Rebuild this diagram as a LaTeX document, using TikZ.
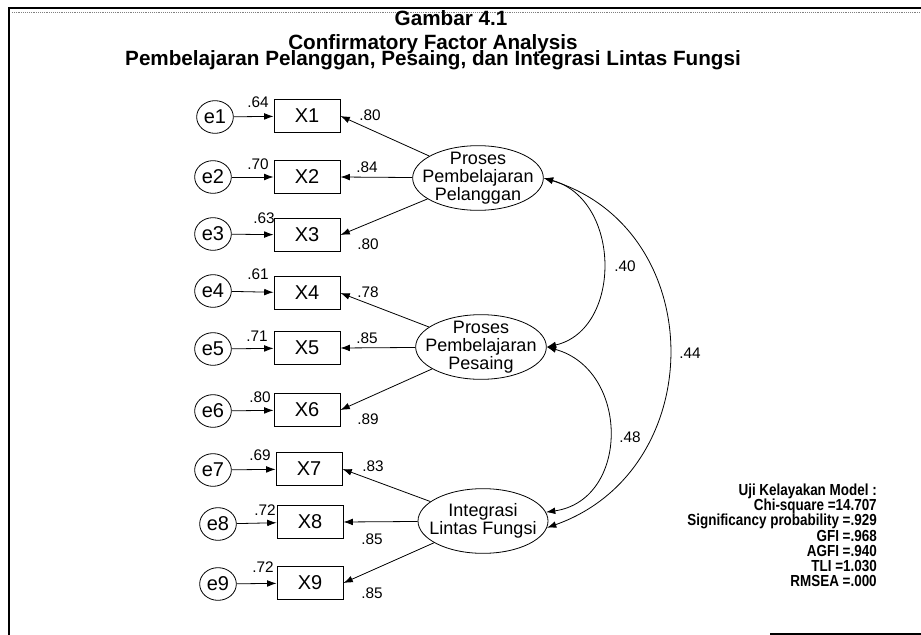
\documentclass[tikz,border=0pt]{standalone}
\usepackage{fontspec}
\setmainfont{Liberation Sans}
\newfontfamily\narrowbf[FakeStretch=0.84]{Liberation Sans Bold}
\usetikzlibrary{arrows.meta, shapes.geometric}

\begin{document}
\begin{tikzpicture}[
    x=0.75pt, y=-0.75pt,
    err/.style={ellipse, draw, line width=0.6pt, minimum width=27.5pt, minimum height=24.5pt, inner sep=0pt, font=\fontsize{15}{15}\selectfont},
    obs/.style={rectangle, draw, line width=0.7pt, minimum width=49.5pt, minimum height=24.5pt, inner sep=0pt, font=\fontsize{15}{15}\selectfont},
    fac/.style={ellipse, draw, line width=0.6pt, minimum width=97.5pt, minimum height=48.5pt, inner xsep=-7pt, inner ysep=-4pt, align=center, font=\fontsize{13.5}{13.5}\selectfont},
    num/.style={inner sep=0pt, font=\fontsize{11.5}{11.5}\selectfont},
    head/.style={inner sep=0pt, anchor=base, font=\fontsize{15.5}{15.5}\selectfont\bfseries},
    load/.style={-{Latex[length=7pt,width=5pt]}, line width=0.6pt},
    cov/.style={{Latex[length=7pt,width=5pt]}-{Latex[length=7pt,width=5pt]}, line width=0.6pt}
]
    \useasboundingbox (0,0) rectangle (921,635);

    % frame
    \draw[line width=1.2pt] (9,635) -- (9,8) -- (921,8);
    \draw[gray, densely dotted] (12,12) -- (921,12);
    \draw[line width=0.8pt] (770,634) -- (921,634);

    % titles
    \node[head] (title) at (451,26) {Gambar 4.1};
    \node[head] (sub1) at (433,49.5) {Confirmatory Factor Analysis};
    \node[head] (sub2) at (433,66) {Pembelajaran Pelanggan, Pesaing, dan Integrasi Lintas Fungsi};

    % indicators
    \node[obs] (X1) at (307,116) {X1};
    \node[obs] (X2) at (307,177) {X2};
    \node[obs] (X3) at (307,235) {X3};
    \node[obs] (X4) at (307,293) {X4};
    \node[obs] (X5) at (307,348) {X5};
    \node[obs] (X6) at (307,410) {X6};
    \node[obs] (X7) at (309,469) {X7};
    \node[obs] (X8) at (310,522) {X8};
    \node[obs] (X9) at (310,583) {X9};

    % errors
    \node[err] (e1) at (215,117) {e1};
    \node[err] (e2) at (213,177) {e2};
    \node[err] (e3) at (213,234) {e3};
    \node[err] (e4) at (213,291) {e4};
    \node[err] (e5) at (213,349) {e5};
    \node[err] (e6) at (213,411) {e6};
    \node[err] (e7) at (213,470) {e7};
    \node[err] (e8) at (218,524) {e8};
    \node[err] (e9) at (218,584) {e9};

    \draw[load] (e1) -- (X1);
    \draw[load] (e2) -- (X2);
    \draw[load] (e3) -- (X3);
    \draw[load] (e4) -- (X4);
    \draw[load] (e5) -- (X5);
    \draw[load] (e6) -- (X6);
    \draw[load] (e7) -- (X7);
    \draw[load] (e8) -- (X8);
    \draw[load] (e9) -- (X9);

    % squared multiple correlations
    \node[num] (r1) at (258,102) {.64};
    \node[num] (r2) at (258,164) {.70};
    \node[num] (r3) at (264,218) {.63};
    \node[num] (r4) at (258,274) {.61};
    \node[num] (r5) at (257,336) {.71};
    \node[num] (r6) at (260,397) {.80};
    \node[num] (r7) at (260,455) {.69};
    \node[num] (r8) at (265,510) {.72};
    \node[num] (r9) at (263,567) {.72};

    % latent variables
    \node[fac] (F1) at (478,178) {Proses\\Pembelajaran\\Pelanggan};
    \node[fac] (F2) at (481,347) {Proses\\Pembelajaran\\Pesaing};
    \node[fac] (F3) at (483,521) {Integrasi\\Lintas Fungsi};

    \draw[load] (F1) -- (X1.east);
    \draw[load] (F1) -- (X2.east);
    \draw[load] (F1) -- (X3.east);
    \draw[load] (F2) -- (X4.east);
    \draw[load] (F2) -- (X5.east);
    \draw[load] (F2) -- (X6.east);
    \draw[load] (F3) -- (X7.east);
    \draw[load] (F3) -- (X8.east);
    \draw[load] (F3) -- (X9.east);

    % standardized loadings
    \node[num] (w1) at (370,115) {.80};
    \node[num] (w2) at (367,167) {.84};
    \node[num] (w3) at (368,244) {.80};
    \node[num] (w4) at (368,292) {.78};
    \node[num] (w5) at (367,338) {.85};
    \node[num] (w6) at (368,419) {.89};
    \node[num] (w7) at (373,466) {.83};
    \node[num] (w8) at (372,539) {.85};
    \node[num] (w9) at (372,593) {.85};

    % correlations
    \draw[cov] (F1.east) .. controls (622,200) and (622,330) .. (F2.east);
    \draw[cov] (F2.east) .. controls (630,370) and (630,500) .. (F3.8);
    \draw[cov] (F1.east) .. controls (710,230) and (710,470) .. (F3.-6);
    \node[num] (c12) at (625,266) {.40};
    \node[num] (c23) at (630,437) {.48};
    \node[num] (c13) at (690,353) {.44};

    % fit
    \node[anchor=north east, align=right, inner sep=0pt, font=\fontsize{12}{11.3}\narrowbf] (fit) at (877,484) {Uji Kelayakan Model :\\Chi-square =14.707\\Significancy probability =.929\\GFI =.968\\AGFI =.940\\TLI =1.030\\RMSEA =.000};
\end{tikzpicture}
\end{document}
